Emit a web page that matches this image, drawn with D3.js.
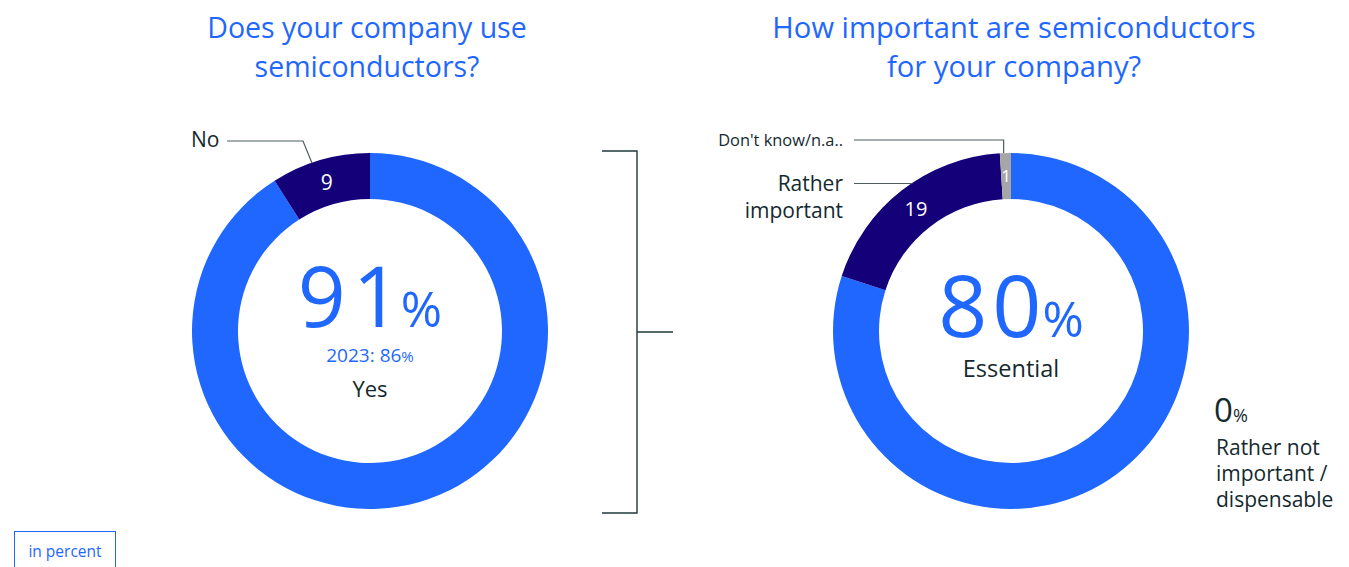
<!DOCTYPE html>
<html>
<head>
<meta charset="utf-8">
<script src="https://cdn.jsdelivr.net/npm/d3@7"></script>
<style>
  html, body { margin: 0; padding: 0; background: #ffffff; }
  svg { display: block; font-family: "Open Sans", "Noto Sans", sans-serif; }
</style>
</head>
<body>
<svg id="chart" width="1349" height="567"></svg>
<script>
// Survey answers, in percent
const usageCategories = ["Yes", "No"];
const usageValues = [91, 9];
const usagePrevYearLabel = "2023";
const usagePrevYearValue = 86;

const importanceCategories = ["Essential", "Rather not important / dispensable", "Rather important", "Don't know/n.a.."];
const importanceValues = [80, 0, 19, 1];

const titles = [
  ["Does your company use", "semiconductors?"],
  ["How important are semiconductors", "for your company?"]
];
const unitNote = "in percent";

// Styling
const BLUE = "#1f67ff";
const NAVY = "#140079";
const GREY = "#a6a6a6";
const INK = "#14292f";
const LEADER = "#4f5d61";

const svg = d3.select("#chart");

const outerR = 178, innerR = 132;
const arc = d3.arc().innerRadius(innerR).outerRadius(outerR);
const pie = d3.pie().sort(null).value(d => d);

// Titles
const titleCx = [367, 1014];
titles.forEach((lines, i) => {
  const t = svg.append("text")
    .attr("text-anchor", "middle")
    .attr("fill", BLUE)
    .attr("font-size", i === 0 ? 28.5 : 29.2);
  lines.forEach((l, j) => {
    t.append("tspan").attr("x", titleCx[i]).attr("y", 38 + j * 39).text(l);
  });
});

// Big centre figure: number plus a smaller percent sign
function bigFigure(g, value, y, size, spacing, gap) {
  const t = g.append("text").attr("text-anchor", "middle").attr("y", y).attr("fill", BLUE);
  t.append("tspan").attr("font-size", size).attr("letter-spacing", spacing).text(value);
  t.append("tspan").attr("font-size", 50).attr("dx", gap - spacing).text("%");
  return t;
}

// ---- Left donut: usage ----
const g1 = svg.append("g").attr("transform", "translate(370,331)");
const usageColor = d3.scaleOrdinal().domain(usageCategories).range([BLUE, NAVY]);
const usageArcs = pie(usageValues);
g1.selectAll("path.seg").data(usageArcs).join("path")
  .attr("class", "seg")
  .attr("d", arc)
  .attr("fill", (d, i) => usageColor(usageCategories[i]));

// value label in the small segment
g1.append("text")
  .datum(usageArcs[1])
  .attr("transform", d => `translate(${arc.centroid(d)})`)
  .attr("text-anchor", "middle")
  .attr("dy", "0.36em")
  .attr("fill", "#ffffff")
  .attr("font-size", 21)
  .text(d => d.data);

// leader line for "No"
{
  const a = (usageArcs[1].startAngle + usageArcs[1].endAngle) / 2 - 0.05;
  const ex = Math.sin(a) * outerR, ey = -Math.cos(a) * outerR;
  g1.append("path")
    .attr("d", `M${-143},${-190} H${-67} L${ex},${ey}`)
    .attr("fill", "none").attr("stroke", LEADER).attr("stroke-width", 1.2);
  g1.append("text")
    .attr("x", -179).attr("y", -184)
    .attr("fill", INK).attr("font-size", 21)
    .text(usageCategories[1]);
}

// centre text
{
  bigFigure(g1, usageValues[0], -4, 84, 7, 0);
  const prev = g1.append("text").attr("text-anchor", "middle").attr("y", 31).attr("fill", BLUE);
  prev.append("tspan").attr("font-size", 19).text(`${usagePrevYearLabel}: ${usagePrevYearValue}`);
  prev.append("tspan").attr("font-size", 15).text("%");
  g1.append("text").attr("text-anchor", "middle").attr("y", 66)
    .attr("fill", INK).attr("font-size", 22).text(usageCategories[0]);
}

// ---- Bracket between the two questions ----
const bracket = d3.path();
bracket.moveTo(602, 151); bracket.lineTo(637, 151); bracket.lineTo(637, 513); bracket.lineTo(602, 513);
bracket.moveTo(637, 332); bracket.lineTo(673, 332);
svg.append("path").attr("d", bracket.toString())
  .attr("fill", "none").attr("stroke", "#1f383e").attr("stroke-width", 1.4);

// ---- Right donut: importance ----
const g2 = svg.append("g").attr("transform", "translate(1011,331)");
const impColor = d3.scaleOrdinal().domain(importanceCategories).range([BLUE, "#7fa8ff", NAVY, GREY]);
const impArcs = pie(importanceValues);
g2.selectAll("path.seg").data(impArcs.filter(d => d.data > 0)).join("path")
  .attr("class", "seg")
  .attr("d", arc)
  .attr("fill", d => impColor(importanceCategories[d.index]));

// value labels in the small segments
g2.selectAll("text.val").data([impArcs[2], impArcs[3]]).join("text")
  .attr("class", "val")
  .attr("transform", d => `translate(${arc.centroid(d)})`)
  .attr("text-anchor", "middle")
  .attr("dy", "0.36em")
  .attr("fill", "#ffffff")
  .attr("font-size", (d, i) => i === 0 ? 20 : 17)
  .text(d => d.data);

// "Don't know" leader: horizontal then down to the segment
{
  const d = impArcs[3];
  const a = (d.startAngle + d.endAngle) / 2 - 0.01;
  const ex = Math.sin(a) * outerR;
  g2.append("path")
    .attr("d", `M${-157},${-191} H${ex} V${-outerR}`)
    .attr("fill", "none").attr("stroke", LEADER).attr("stroke-width", 1.2);
  g2.append("text").attr("x", -168).attr("y", -185)
    .attr("text-anchor", "end").attr("fill", INK).attr("font-size", 16.4)
    .text(importanceCategories[3]);
}
// "Rather important" leader
{
  const y = -147.5;
  const ex = -Math.sqrt(outerR * outerR - y * y);
  g2.append("path")
    .attr("d", `M${-157},${y} H${ex + 1}`)
    .attr("fill", "none").attr("stroke", LEADER).attr("stroke-width", 1.2);
  const t = g2.append("text").attr("text-anchor", "end").attr("fill", INK).attr("font-size", 21);
  ["Rather", "important"].forEach((l, j) => t.append("tspan").attr("x", -168).attr("y", -140 + j * 27).text(l));
}

// centre text
{
  bigFigure(g2, importanceValues[0], 6, 86, 5, 1);
  g2.append("text").attr("text-anchor", "middle").attr("y", 46)
    .attr("fill", INK).attr("font-size", 23.5).text(importanceCategories[0]);
}

// zero-share answer noted beside the ring
{
  const t = g2.append("text").attr("x", 203).attr("y", 91).attr("fill", INK);
  t.append("tspan").attr("font-size", 33).text(importanceValues[1]);
  t.append("tspan").attr("font-size", 18).text("%");
  const lab = g2.append("text").attr("fill", INK).attr("font-size", 21);
  ["Rather not", "important /", "dispensable"].forEach((l, j) =>
    lab.append("tspan").attr("x", 205).attr("y", 124 + j * 26).text(l));
}

// Unit note box
svg.append("rect").attr("x", 14.5).attr("y", 531.5).attr("width", 101).attr("height", 50)
  .attr("fill", "none").attr("stroke", BLUE).attr("stroke-width", 1);
svg.append("text").attr("x", 65).attr("y", 557).attr("text-anchor", "middle")
  .attr("fill", BLUE).attr("font-size", 15.5).text(unitNote);
</script>
</body>
</html>
